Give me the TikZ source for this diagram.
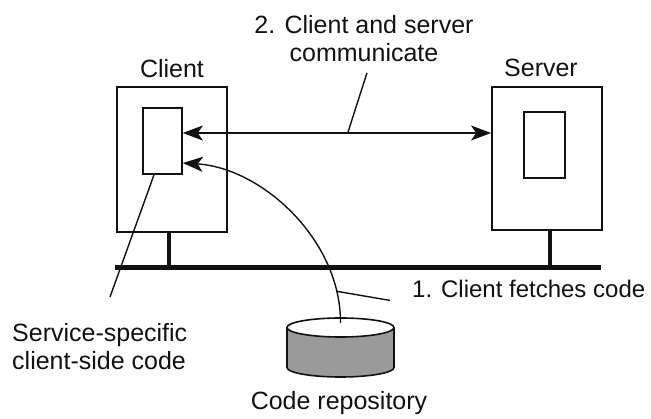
\documentclass[tikz,border=0pt]{standalone}
\usepackage{fontspec}
\setmainfont{Liberation Sans}
\usepackage{tikz}
\usetikzlibrary{positioning, arrows.meta, calc}
\definecolor{inkBlack}{HTML}{111111}
\definecolor{repoGray}{HTML}{9A9A9A}

\begin{document}
\begin{tikzpicture}[x=1pt, y=-1pt, font=\fontsize{25}{28}\selectfont,
  hostbox/.style={draw=inkBlack, line width=1.8pt, inner sep=0pt},
  codebox/.style={draw=inkBlack, line width=1.6pt, inner sep=0pt},
  lbl/.style={inner sep=0pt, text=inkBlack},
  leader/.style={draw=inkBlack, line width=1.4pt},
  bus/.style={draw=inkBlack, line width=5pt},
  stem/.style={draw=inkBlack, line width=4pt},
  link/.style={draw=inkBlack, line width=1.6pt, {Stealth[length=20pt,width=15pt,inset=5pt]}-{Stealth[length=20pt,width=15pt,inset=5pt]}},
  fetchline/.style={draw=inkBlack, line width=1.4pt, -{Stealth[length=20pt,width=15pt,inset=5pt]}}]
  \useasboundingbox (0,0) rectangle (651,419);

  % hosts
  \node[hostbox, minimum width=110pt, minimum height=145pt] (client) at (172,159.5) {};
  \node[codebox, minimum width=39pt, minimum height=66pt] (ccode) at (162.5,141) {};
  \node[hostbox, minimum width=110pt, minimum height=143pt] (server) at (547,158.5) {};
  \node[codebox, minimum width=41pt, minimum height=66pt] (scode) at (544.5,145) {};
  \node[lbl, anchor=base] (clientlbl) at (172,78) {Client};
  \node[lbl, anchor=base] (serverlbl) at (541,77) {Server};

  % network
  \coordinate (busw) at (115,268);
  \coordinate (buse) at (601,268);
  \coordinate (cstem) at (169,268);
  \coordinate (sstem) at (550,268);
  \draw[bus] (busw) -- (buse);
  \draw[stem] (cstem |- client.south) -- (cstem);
  \draw[stem] (sstem |- server.south) -- (sstem);

  % repository
  \coordinate (repotop) at (340.5,327.5);
  \filldraw[fill=repoGray, draw=inkBlack, line width=1.6pt] (340.5,367.5) ellipse [x radius=53.5, y radius=9.5];
  \fill[repoGray] (287,327.5) rectangle (394,367.5);
  \draw[inkBlack, line width=1.6pt] (287,327.5) -- (287,367.5) (394,327.5) -- (394,367.5);
  \filldraw[fill=white, draw=inkBlack, line width=1.6pt] (repotop) ellipse [x radius=53.5, y radius=9.5];
  \node[lbl, anchor=base] (repolbl) at (339,410) {Code repository};

  % texts
  \node[lbl, align=center, anchor=north] (comm) at (364,15) {2. Client and server\\communicate};
  \node[lbl, anchor=base west, font=\fontsize{24}{28}\selectfont] (fetch) at (412,298) {1. Client fetches code};
  \node[lbl, align=left, anchor=north west] (svc) at (12,323) {Service-specific\\client-side code};

  % connectors
  \draw[link] ([yshift=8pt]ccode.east) -- ([yshift=8pt]ccode.east -| server.west) coordinate[pos=0.535] (commpt);
  \draw[leader] ([xshift=3pt,yshift=-11pt]comm.south) -- (commpt);
  \draw[fetchline] (340.5,323) .. controls (341,240) and (262,168) .. ([yshift=-22pt]ccode.east) coordinate[pos=0.13] (fetchpt);
  \draw[leader] (fetchpt) -- ([xshift=-22pt,yshift=-11pt]fetch.west);
  \draw[leader] ([xshift=-8.5pt]ccode.south) -- ([xshift=98pt,yshift=26pt]svc.north west);
\end{tikzpicture}
\end{document}
